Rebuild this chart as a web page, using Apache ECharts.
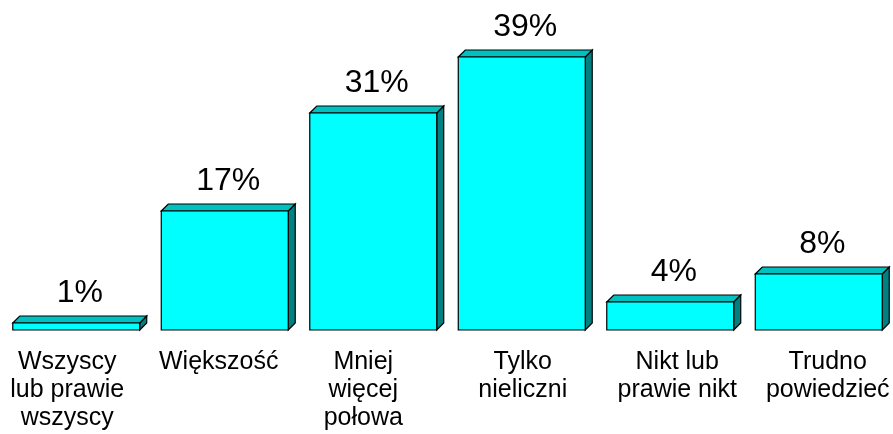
<!DOCTYPE html>
<html>
<head>
    <meta charset="utf-8">
    <title>Chart</title>
    <script src="https://cdn.jsdelivr.net/npm/echarts@6/dist/echarts.min.js"></script>
    <style type="text/css">
        html, body {margin:0; padding:0; background-color:#ffffff; overflow:hidden;}
    </style>
</head>
<body>
<div id="container" style="width: 893px;height:434px;"></div>

<script type="text/javascript">
    // categories and values (percent)
    var categories = ['Wszyscy\nlub prawie\nwszyscy', 'Większość', 'Mniej\nwięcej\npołowa', 'Tylko\nnieliczni', 'Nikt lub\nprawie nikt', 'Trudno\npowiedzieć'];
    var values = [1, 17, 31, 39, 4, 8];

    var font = '"Liberation Sans", Arial, sans-serif';
    var depth = 7;
    // horizontal nudge of each axis label (px), as in the original layout
    var labelShift = [-9, -6, -10, 1, 7, 9];

    // 3D bar: front face, top face, side face
    function renderItem(params, api) {
        var idx = api.value(0);
        var base = api.coord([idx, 0]);
        var top = api.coord([idx, api.value(1)]);
        var w = api.size([1, 0])[0] * 0.855;
        var x0 = base[0] - w / 2, x1 = base[0] + w / 2;
        var y0 = top[1], y1 = base[1];
        var d = depth;
        var edge = '#000';
        return {
            type: 'group',
            children: [{
                type: 'polygon',
                shape: {points: [[x1, y0], [x1 + d, y0 - d], [x1 + d, y1 - d], [x1, y1]]},
                style: {fill: '#008080', stroke: edge, lineWidth: 1.2}
            }, {
                type: 'polygon',
                shape: {points: [[x0, y0], [x0 + d, y0 - d], [x1 + d, y0 - d], [x1, y0]]},
                style: {fill: '#00C0C0', stroke: edge, lineWidth: 1.2}
            }, {
                type: 'rect',
                shape: {x: x0, y: y0, width: x1 - x0, height: y1 - y0},
                style: {fill: '#00FFFF', stroke: edge, lineWidth: 1.2}
            }, {
                type: 'text',
                style: {
                    x: base[0] + d / 2,
                    y: y0 - d - 23,
                    text: api.value(1) + '%',
                    fill: '#000',
                    font: '32px ' + font,
                    textAlign: 'center',
                    textVerticalAlign: 'middle'
                }
            }]
        };
    }

    var axisData = categories.map(function (c, i) {
        var s = labelShift[i];
        return {
            value: c,
            textStyle: {padding: s < 0 ? [0, -2 * s, 0, 0] : [0, 0, 0, 2 * s]}
        };
    });

    var myChart = echarts.init(document.getElementById('container'));
    var option = {
        backgroundColor: '#ffffff',
        animation: false,
        grid: {left: 2, right: 0, top: 15, bottom: 104},
        xAxis: {
            type: 'category',
            data: axisData,
            axisLine: {show: false},
            axisTick: {show: false},
            axisLabel: {
                interval: 0,
                color: '#000',
                fontSize: 25,
                lineHeight: 28,
                fontFamily: font,
                margin: 18
            }
        },
        yAxis: {
            type: 'value',
            min: 0,
            max: 45,
            show: false
        },
        series: [{
            type: 'custom',
            renderItem: renderItem,
            data: values.map(function (v, i) { return [i, v]; })
        }]
    };
    myChart.setOption(option);
</script>
</body>
</html>
